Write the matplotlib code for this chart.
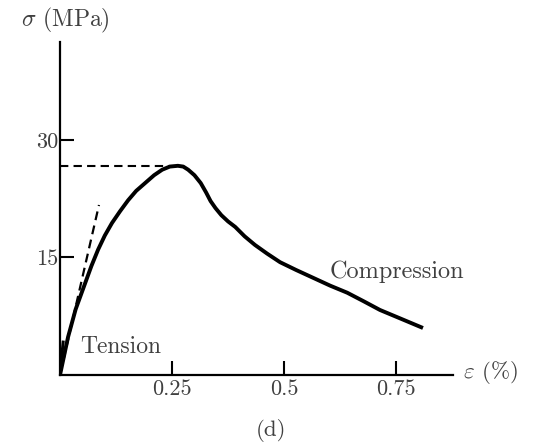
import matplotlib
matplotlib.use("Agg")
import matplotlib.pyplot as plt

plt.rcParams["mathtext.fontset"] = "cm"
plt.rcParams["axes.unicode_minus"] = False

# Compression curve (strain %, stress MPa)
strain = [0.0, 0.018, 0.035, 0.056, 0.070, 0.085, 0.100, 0.116, 0.134, 0.152, 0.170,
          0.190, 0.210, 0.228, 0.245, 0.263, 0.275, 0.286, 0.300, 0.314, 0.326,
          0.336, 0.347, 0.360, 0.375, 0.391, 0.412, 0.435, 0.462, 0.491, 0.527,
          0.565, 0.603, 0.641, 0.678, 0.714, 0.760, 0.810]
stress = [0.0, 4.85, 8.4, 11.7, 13.9, 16.0, 17.8, 19.4, 20.9, 22.3, 23.5,
          24.5, 25.5, 26.2, 26.6, 26.7, 26.6, 26.2, 25.5, 24.5, 23.3,
          22.2, 21.3, 20.4, 19.6, 18.9, 17.7, 16.6, 15.5, 14.4, 13.4,
          12.4, 11.4, 10.5, 9.4, 8.3, 7.2, 6.0]

# Tension (short segment) and initial tangent
tension_strain = [0.0, 0.007]
tension_stress = [0.0, 4.2]
tangent_strain = [0.0, 0.087]
tangent_stress = [0.0, 21.7]
peak_strain = 0.263
peak_stress = 26.7

xticks = [0.25, 0.5, 0.75]
xticklabels = ["0.25", "0.5", "0.75"]
yticks = [15, 30]
yticklabels = ["15", "30"]

W, H = 533, 444
fig = plt.figure(figsize=(W / 100, H / 100), dpi=100)
ax = fig.add_axes([60 / W, (H - 375) / H, (453 - 60) / W, (375 - 42) / H])
ax.set_xlim(0, 0.877)
ax.set_ylim(0, 42.5)

fam = "cmr10"
tcol = "#404040"

ax.plot(strain, stress, color="black", lw=2.8, solid_joinstyle="round",
        solid_capstyle="butt", zorder=3)
ax.plot(tension_strain, tension_stress, color="black", lw=2.2, zorder=3)
ax.plot(tangent_strain, tangent_stress, color="black", lw=1.6, ls=(0, (4, 2.5)), zorder=2)
ax.plot([0, peak_strain], [peak_stress, peak_stress], color="black", lw=1.5,
        ls=(0, (4, 2.5)), zorder=2)

for s in ["top", "right"]:
    ax.spines[s].set_visible(False)
for s in ["left", "bottom"]:
    ax.spines[s].set_linewidth(1.6)

ax.set_xticks(xticks)
ax.set_xticklabels(xticklabels, fontfamily=fam, fontsize=16, color=tcol)
ax.set_yticks(yticks)
ax.set_yticklabels(yticklabels, fontfamily=fam, fontsize=16, color=tcol)
ax.tick_params(axis="both", direction="in", length=10, width=1.5)
ax.tick_params(axis="x", pad=3)
ax.tick_params(axis="y", pad=1)

fig.text(21 / W, 1 - 20 / H, r"$\sigma$ (MPa)", fontfamily=fam, fontsize=17,
         color=tcol, va="center", ha="left")
fig.text(463 / W, 1 - 372 / H, r"$\varepsilon$ (%)", fontfamily=fam, fontsize=16.5,
         color=tcol, va="center", ha="left")
fig.text(271 / W, 1 - 430 / H, "(d)", fontfamily=fam, fontsize=16.5,
         color=tcol, va="center", ha="center")
fig.text(330 / W, 1 - 272 / H, "Compression", fontfamily=fam, fontsize=17.5,
         color=tcol, va="center", ha="left")
fig.text(80 / W, 1 - 347 / H, "Tension", fontfamily=fam, fontsize=17,
         color=tcol, va="center", ha="left")

fig.savefig("out.png", dpi=100)
